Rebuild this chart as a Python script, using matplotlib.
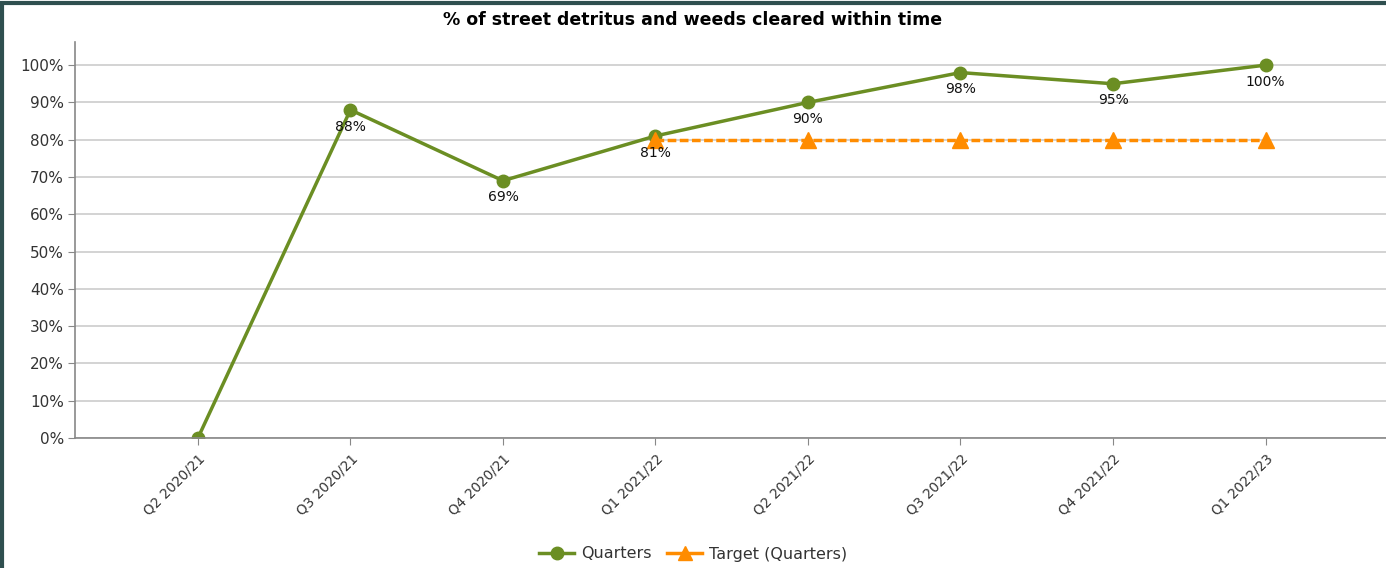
import matplotlib
matplotlib.use("Agg")
import matplotlib.pyplot as plt
from matplotlib.lines import Line2D

categories = ["Q2 2020/21", "Q3 2020/21", "Q4 2020/21", "Q1 2021/22",
              "Q2 2021/22", "Q3 2021/22", "Q4 2021/22", "Q1 2022/23"]
quarters = [0, 88, 69, 81, 90, 98, 95, 100]
target_idx = [3, 4, 5, 6, 7]
target = [80, 80, 80, 80, 80]

green = "#6b8e23"
orange = "#ff8c00"
grey = "#888888"

fig = plt.figure(figsize=(13.86, 5.68), dpi=100)
ax = fig.add_axes([75 / 1386, 1 - 438 / 568, 1 - 75 / 1386, (438 - 42) / 568])

x = list(range(len(categories)))
ax.plot(x, quarters, color=green, lw=2.5, marker="o", ms=9, zorder=3)
ax.plot(target_idx, target, color=orange, lw=2.5, ls=(0, (2.5, 1)), marker="^",
        ms=11, zorder=4)

for i, v in zip(x, quarters):
    if i == 0:
        continue
    ax.annotate(f"{v}%", (i, v), xytext=(0, -7), textcoords="offset points",
                ha="center", va="top", fontsize=10, color="#111111", zorder=5)

ax.set_xlim(-0.806, 7.79)
ax.set_ylim(0, 106.2)
ax.set_yticks(range(0, 101, 10))
ax.set_yticklabels([f"{t}%" for t in range(0, 101, 10)], fontsize=11, color="#333333")
ax.set_xticks(x)
ax.set_xticklabels(categories, rotation=45, ha="right", rotation_mode="anchor",
                   fontsize=9.8, color="#333333")
ax.tick_params(axis="y", length=5, color=grey, pad=3)
ax.tick_params(axis="x", length=5, color=grey, pad=5)
for lbl in ax.get_xticklabels():
    lbl.set_x(lbl.get_position()[0])
ax.grid(axis="y", color="#cccccc", lw=1.2)
ax.set_axisbelow(True)
for s in ["top", "right"]:
    ax.spines[s].set_visible(False)
for s in ["left", "bottom"]:
    ax.spines[s].set_color(grey)
    ax.spines[s].set_linewidth(1.2)
ax.spines["bottom"].set_zorder(6)

fig.text(0.5, 1 - 20 / 568, "% of street detritus and weeds cleared within time",
         ha="center", va="center", fontsize=12.5, fontweight="bold")

handles = [
    Line2D([], [], color=green, lw=2.5, marker="o", ms=9),
    Line2D([], [], color=orange, lw=2.5, marker="^", ms=10),
]
fig.legend(handles, ["Quarters", "Target (Quarters)"], loc="center",
           bbox_to_anchor=(0.5, 1 - 554 / 568), ncol=2, frameon=False,
           fontsize=11.5, handlelength=2.2, handletextpad=0.4, columnspacing=1.0,
           labelcolor="#333333")

# dark frame on the left and top edges
frame = "#2f4f4f"
fig.add_artist(Line2D([2 / 1386, 2 / 1386], [0, 1 - 4 / 568], color=frame, lw=3,
                      transform=fig.transFigure))
fig.add_artist(Line2D([0, 1], [1 - 3 / 568, 1 - 3 / 568], color=frame, lw=3,
                      transform=fig.transFigure))

fig.savefig("out.png", dpi=100)
